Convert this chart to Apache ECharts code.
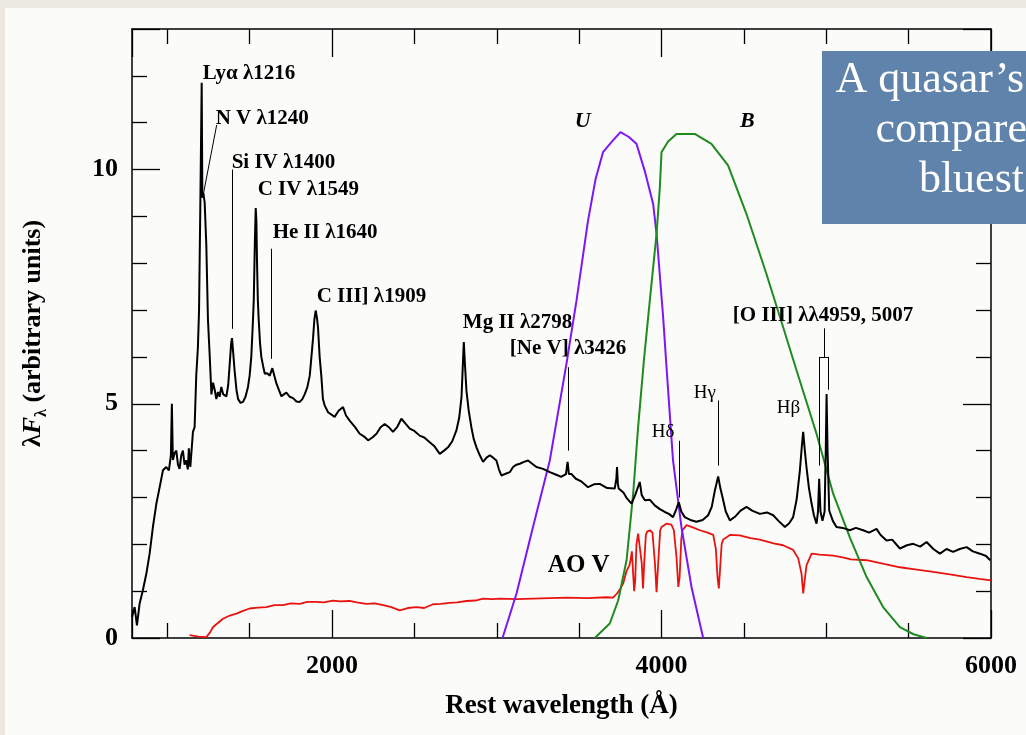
<!DOCTYPE html>
<html>
<head>
<meta charset="utf-8">
<title>Quasar spectrum with U and B filters</title>
<script src="https://cdn.jsdelivr.net/npm/echarts@6/dist/echarts.min.js"></script>
<style>
html,body{margin:0;padding:0;background:#ebe8df;}
#chart{width:1026px;height:735px;}
</style>
</head>
<body>
<div id="chart"></div>
<script>
// composite quasar spectrum (black)
var qsoWave = [786,802,816,832,852,873,893,913,934,954,974,994,1010,1022,1028,1034,1045,1055,1065,1075,1085,1095,1105,1115,1125,1131,1140,1146,1156,1166,1176,1186,1193,1201,1209,1213,1219,1227,1237,1247,1258,1268,1278,1288,1298,1308,1318,1328,1340,1359,1370,1379,1388,1393,1400,1409,1420,1430,1445,1460,1475,1490,1500,1510,1518,1525,1532,1537,1541,1545,1550,1555,1563,1571,1582,1592,1607,1622,1638,1650,1662,1677,1693,1708,1723,1743,1764,1784,1804,1820,1834,1850,1865,1875,1885,1893,1901,1908,1915,1925,1935,1945,1956,1976,1986,2016,2040,2067,2085,2107,2140,2168,2195,2219,2245,2270,2295,2320,2345,2370,2395,2421,2445,2472,2500,2532,2560,2593,2620,2654,2680,2704,2730,2755,2772,2786,2795,2800,2806,2816,2830,2846,2860,2877,2897,2917,2938,2958,2978,2998,3013,3028,3050,3079,3099,3120,3140,3165,3190,3215,3241,3281,3322,3350,3372,3390,3420,3430,3438,3453,3480,3510,3554,3590,3625,3670,3716,3726,3730,3735,3740,3770,3790,3818,3840,3868,3880,3899,3930,3959,3990,4020,4045,4070,4090,4105,4120,4141,4175,4212,4250,4283,4305,4324,4344,4357,4370,4390,4415,4450,4480,4516,4550,4597,4640,4678,4710,4749,4775,4799,4820,4840,4852,4860,4870,4880,4895,4911,4925,4941,4950,4957,4965,4977,4990,4997,5002,5008,5018,5040,5062,5100,5143,5180,5224,5260,5305,5330,5366,5400,5447,5490,5528,5570,5609,5650,5690,5730,5770,5810,5852,5890,5933,5970,5995];
var qsoFlux = [0.45,0.66,0.27,0.73,1.02,1.37,1.80,2.37,2.87,3.22,3.58,3.65,3.58,3.9,5.0,3.8,3.95,4.0,3.7,3.61,3.9,4.0,3.7,3.79,3.6,4.05,3.65,3.61,4.4,4.5,5.6,6.2,7.0,9.3,11.85,9.4,9.5,9.3,8.4,6.8,6.0,5.2,5.45,5.3,5.1,5.25,5.15,5.36,5.2,5.16,5.4,5.84,6.3,6.4,6.1,5.7,5.3,5.1,5.02,5.04,5.15,5.36,5.6,6.0,6.6,7.2,8.5,9.18,8.9,8.0,7.2,6.8,6.3,6.0,5.8,5.64,5.65,5.6,5.76,5.6,5.44,5.3,5.16,5.2,5.24,5.15,5.12,5.05,5.04,5.1,5.2,5.35,5.6,6.0,6.4,6.8,6.99,6.85,6.63,6.0,5.6,5.1,4.96,4.82,4.8,4.72,4.85,4.93,4.75,4.64,4.5,4.36,4.3,4.22,4.28,4.36,4.5,4.57,4.5,4.40,4.5,4.68,4.58,4.47,4.42,4.32,4.28,4.18,4.1,3.93,4.0,4.07,4.2,4.43,4.7,5.14,5.9,6.32,5.9,5.28,4.85,4.50,4.25,4.07,3.9,3.76,3.85,3.90,3.85,3.79,3.6,3.47,3.5,3.54,3.65,3.7,3.72,3.76,3.79,3.72,3.65,3.61,3.54,3.5,3.47,3.44,3.5,3.76,3.5,3.5,3.4,3.35,3.22,3.28,3.29,3.2,3.19,3.4,3.65,3.3,3.19,3.1,2.98,2.87,3.05,3.33,3.05,2.94,2.95,2.83,2.75,2.69,2.65,2.58,2.75,2.90,2.7,2.58,2.52,2.48,2.52,2.62,2.8,3.15,3.45,3.2,3.01,2.7,2.51,2.6,2.72,2.80,2.72,2.65,2.68,2.62,2.5,2.37,2.45,2.58,2.95,3.58,4.1,4.40,4.0,3.65,3.2,2.87,2.62,2.44,2.7,3.40,2.7,2.5,2.7,4.0,5.21,4.0,2.72,2.5,2.37,2.35,2.30,2.35,2.30,2.25,2.33,2.2,2.08,2.1,1.91,1.98,2.01,1.95,2.05,1.9,1.80,1.9,1.84,1.9,1.94,1.85,1.80,1.75,1.66];

// A0 V star spectrum (red)
var starWave = [1136,1190,1237,1260,1277,1300,1338,1380,1420,1460,1500,1550,1602,1650,1702,1750,1804,1850,1905,1950,2006,2050,2107,2150,2209,2260,2310,2360,2411,2460,2512,2560,2613,2660,2715,2760,2816,2870,2917,2970,3018,3120,3220,3320,3423,3550,3666,3706,3730,3750,3767,3787,3805,3812,3820,3828,3834,3840,3848,3858,3868,3880,3888,3895,3905,3913,3930,3945,3960,3970,3980,3992,4000,4030,4060,4075,4091,4102,4110,4120,4127,4152,4190,4233,4280,4314,4330,4340,4348,4356,4365,4374,4415,4475,4540,4597,4680,4738,4799,4830,4850,4860,4868,4880,4911,4960,5042,5100,5150,5245,5350,5447,5550,5649,5750,5852,5930,6000];
var starFlux = [0.06,0.03,0.02,0.12,0.23,0.3,0.41,0.48,0.52,0.58,0.63,0.65,0.66,0.7,0.70,0.74,0.73,0.77,0.77,0.76,0.80,0.78,0.79,0.76,0.73,0.74,0.70,0.66,0.59,0.64,0.66,0.64,0.72,0.73,0.75,0.76,0.79,0.8,0.84,0.83,0.84,0.83,0.84,0.85,0.86,0.85,0.87,0.86,0.95,1.05,1.16,1.42,1.55,1.66,1.85,1.87,1.0,1.2,2.0,2.23,2.2,1.6,1.06,1.6,2.2,2.27,2.3,2.25,1.6,0.98,1.6,2.3,2.37,2.44,2.42,2.3,1.73,1.09,1.3,2.1,2.3,2.41,2.36,2.30,2.25,2.2,1.9,1.3,1.06,1.5,2.0,2.1,2.2,2.19,2.13,2.1,2.02,1.98,1.88,1.7,1.37,0.95,1.2,1.55,1.80,1.78,1.76,1.72,1.68,1.66,1.58,1.51,1.46,1.41,1.36,1.30,1.26,1.23];

// U filter transmission (purple)
var uWave = [3035,3120,3220,3322,3423,3484,3554,3600,3645,3700,3751,3800,3848,3900,3949,3970,4010,4030,4070,4121,4182,4253];
var uCurve = [0,0.95,2.37,3.79,5.85,7.2,8.91,9.8,10.37,10.6,10.8,10.7,10.55,9.95,9.27,8.63,6.85,5.8,3.79,2.37,1.09,0];

// B filter transmission (green)
var bWave = [3595,3686,3737,3788,3828,3858,3893,3929,3970,3990,4000,4040,4091,4202,4303,4404,4516,4637,4738,4820,4941,5042,5143,5245,5345,5447,5530,5609];
var bCurve = [0,0.31,0.80,1.66,3.08,4.50,5.92,7.2,8.63,9.62,10.37,10.6,10.76,10.76,10.55,10.09,9.05,7.77,6.64,5.71,4.36,3.08,2.15,1.30,0.66,0.23,0.08,0];

// emission line names
var lineNames = ['Lyα λ1216','N V λ1240','Si IV λ1400','C IV λ1549','He II λ1640','C III] λ1909','Mg II λ2798','[Ne V] λ3426','[O III] λλ4959, 5007','Hδ','Hγ','Hβ','AO V','U','B'];

// tick labels
var xTickLabels = [2000, 4000, 6000];
var yTickLabels = [0, 5, 10];

(function(){
  var myChart = echarts.init(document.getElementById('chart'));
  var serif = '"Liberation Serif", "DejaVu Serif", serif';

  function pairs(xs, ys){
    return xs.map(function(x, i){ return [x, ys[i]]; });
  }

  // where each label sits (data units, left edge / vertical centre)
  var labelAt = [
    [1215, 12.05], [1294, 11.09], [1391, 10.15], [1549, 9.57], [1640, 8.66],
    [1907, 7.29], [2794, 6.74], [3079, 6.18], [4433, 6.88],
    [3941, 4.39], [4196, 5.24], [4700, 4.92], [3310, 1.55],
    [3474, 11.04], [4476, 11.04]
  ];
  var labelData = lineNames.map(function(name, i){
    var item = { value: [labelAt[i][0], labelAt[i][1], name] };
    if (i >= 9 && i <= 11) {
      item.label = { fontWeight: 'normal', fontSize: 19 };
    }
    if (i === 12) {
      item.label = { fontSize: 25 };
    }
    if (i >= 13) {
      item.label = { fontStyle: 'italic', fontSize: 22 };
    }
    return item;
  });

  // leader lines from the label to the feature
  function seg(x1, y1, x2, y2){ return [{ coord: [x1, y1] }, { coord: [x2, y2] }]; }
  var leaders = [
    seg(1215, 9.4, 1300, 10.95),
    seg(1393, 10.0, 1393, 6.6),
    seg(1632, 8.31, 1632, 5.96),
    seg(3433, 5.78, 3433, 4.0),
    seg(4105, 4.21, 4105, 3.0),
    seg(4344, 5.07, 4344, 3.68),
    seg(4985, 6.61, 4985, 6.0),
    seg(4960, 6.0, 5010, 6.0),
    seg(4960, 6.0, 4960, 3.68),
    seg(5010, 6.0, 5010, 5.3)
  ];

  var tickStyle = { color: '#000', width: 1.3 };
  function xAxisCfg(pos, showLabel){
    return {
      type: 'value', position: pos, min: 786, max: 6000, splitNumber: 3,
      axisLine: { show: true, onZero: false, lineStyle: { color: '#000', width: 1.5 } },
      axisTick: { show: true, inside: true, length: 28, lineStyle: tickStyle },
      minorTick: { show: true, splitNumber: 4, length: 15, lineStyle: tickStyle },
      splitLine: { show: false },
      axisLabel: {
        show: showLabel, margin: 15, color: '#000', fontFamily: serif, fontWeight: 'bold', fontSize: 26,
        formatter: function(v){ return xTickLabels.indexOf(v) >= 0 ? String(v) : ''; }
      }
    };
  }
  function yAxisCfg(pos, showLabel){
    return {
      type: 'value', position: pos, min: 0, max: 13, interval: 5,
      axisLine: { show: true, onZero: false, lineStyle: { color: '#000', width: 1.5 } },
      axisTick: { show: true, inside: true, length: 28, lineStyle: tickStyle },
      minorTick: { show: true, splitNumber: 5, length: 15, lineStyle: tickStyle },
      splitLine: { show: false },
      axisLabel: {
        show: showLabel, margin: 14, color: '#000', fontFamily: serif, fontWeight: 'bold', fontSize: 26,
        formatter: function(v){ return yTickLabels.indexOf(v) >= 0 ? String(v) : ''; }
      }
    };
  }

  var xBottom = xAxisCfg('bottom', true);
  xBottom.name = 'Rest wavelength (Å)';
  xBottom.nameLocation = 'middle';
  xBottom.nameGap = 55;
  xBottom.nameTextStyle = { color: '#000', fontFamily: serif, fontWeight: 'bold', fontSize: 27 };

  var yLeft = yAxisCfg('left', true);
  yLeft.name = '{a|λ}{f|F}{s|λ}{a| (arbitrary units)}';
  yLeft.nameLocation = 'middle';
  yLeft.nameRotate = 90;
  yLeft.nameGap = 82;
  yLeft.nameTextStyle = {
    color: '#000', fontFamily: serif, fontWeight: 'bold', fontSize: 26,
    rich: {
      a: { fontFamily: serif, fontWeight: 'bold', fontSize: 26, lineHeight: 34, verticalAlign: 'middle', color: '#000' },
      f: { fontFamily: serif, fontWeight: 'bold', fontStyle: 'italic', fontSize: 26, lineHeight: 34, verticalAlign: 'middle', color: '#000' },
      s: { fontFamily: serif, fontWeight: 'bold', fontSize: 16, lineHeight: 34, verticalAlign: 'bottom', color: '#000' }
    }
  };

  var boxFont = '44px "Liberation Serif", serif';
  var option = {
    backgroundColor: '#ebe8df',
    animation: false,
    grid: { left: 132, right: 35, top: 29, bottom: 97, containLabel: false },
    xAxis: [xBottom, xAxisCfg('top', false)],
    yAxis: [yLeft, yAxisCfg('right', false)],
    graphic: [
      { type: 'rect', z: -100, silent: true, shape: { x: 5, y: 8, width: 1021, height: 727 }, style: { fill: '#fbfbfa' } },
      { type: 'rect', z: 100, silent: true, shape: { x: 822, y: 51, width: 204, height: 173 }, style: { fill: '#5f83aa' } },
      { type: 'text', z: 101, silent: true, style: { x: 1024, y: 102, text: 'A quasar’s', fill: '#fff', font: boxFont, textAlign: 'right', textVerticalAlign: 'bottom' } },
      { type: 'text', z: 101, silent: true, style: { x: 1027, y: 152, text: 'compare', fill: '#fff', font: boxFont, textAlign: 'right', textVerticalAlign: 'bottom' } },
      { type: 'text', z: 101, silent: true, style: { x: 1024, y: 202, text: 'bluest', fill: '#fff', font: boxFont, textAlign: 'right', textVerticalAlign: 'bottom' } }
    ],
    series: [
      {
        name: 'A0 V', type: 'line', data: pairs(starWave, starFlux),
        showSymbol: false, symbol: 'none', z: 3,
        lineStyle: { color: '#e8130f', width: 1.8 }
      },
      {
        name: 'U', type: 'line', data: pairs(uWave, uCurve),
        showSymbol: false, symbol: 'none', z: 4,
        lineStyle: { color: '#7d16f5', width: 2 }
      },
      {
        name: 'B', type: 'line', data: pairs(bWave, bCurve),
        showSymbol: false, symbol: 'none', z: 4,
        lineStyle: { color: '#1f8a1f', width: 2 }
      },
      {
        name: 'Quasar', type: 'line', data: pairs(qsoWave, qsoFlux),
        showSymbol: false, symbol: 'none', z: 5,
        lineStyle: { color: '#000', width: 2 },
        markLine: {
          silent: true, symbol: ['none', 'none'], label: { show: false },
          lineStyle: { color: '#000', width: 1, type: 'solid' },
          data: leaders
        }
      },
      {
        name: 'labels', type: 'scatter', data: labelData, symbolSize: 0, z: 6, silent: true,
        label: {
          show: true, position: 'right', distance: 0, color: '#000',
          textBorderWidth: 0, opacity: 1,
          fontFamily: serif, fontWeight: 'bold', fontSize: 21,
          formatter: function(p){ return p.data.value[2]; }
        }
      }
    ]
  };

  myChart.setOption(option);
  window.addEventListener('resize', function(){
    myChart.resize();
  });
})();
</script>
</body>
</html>
